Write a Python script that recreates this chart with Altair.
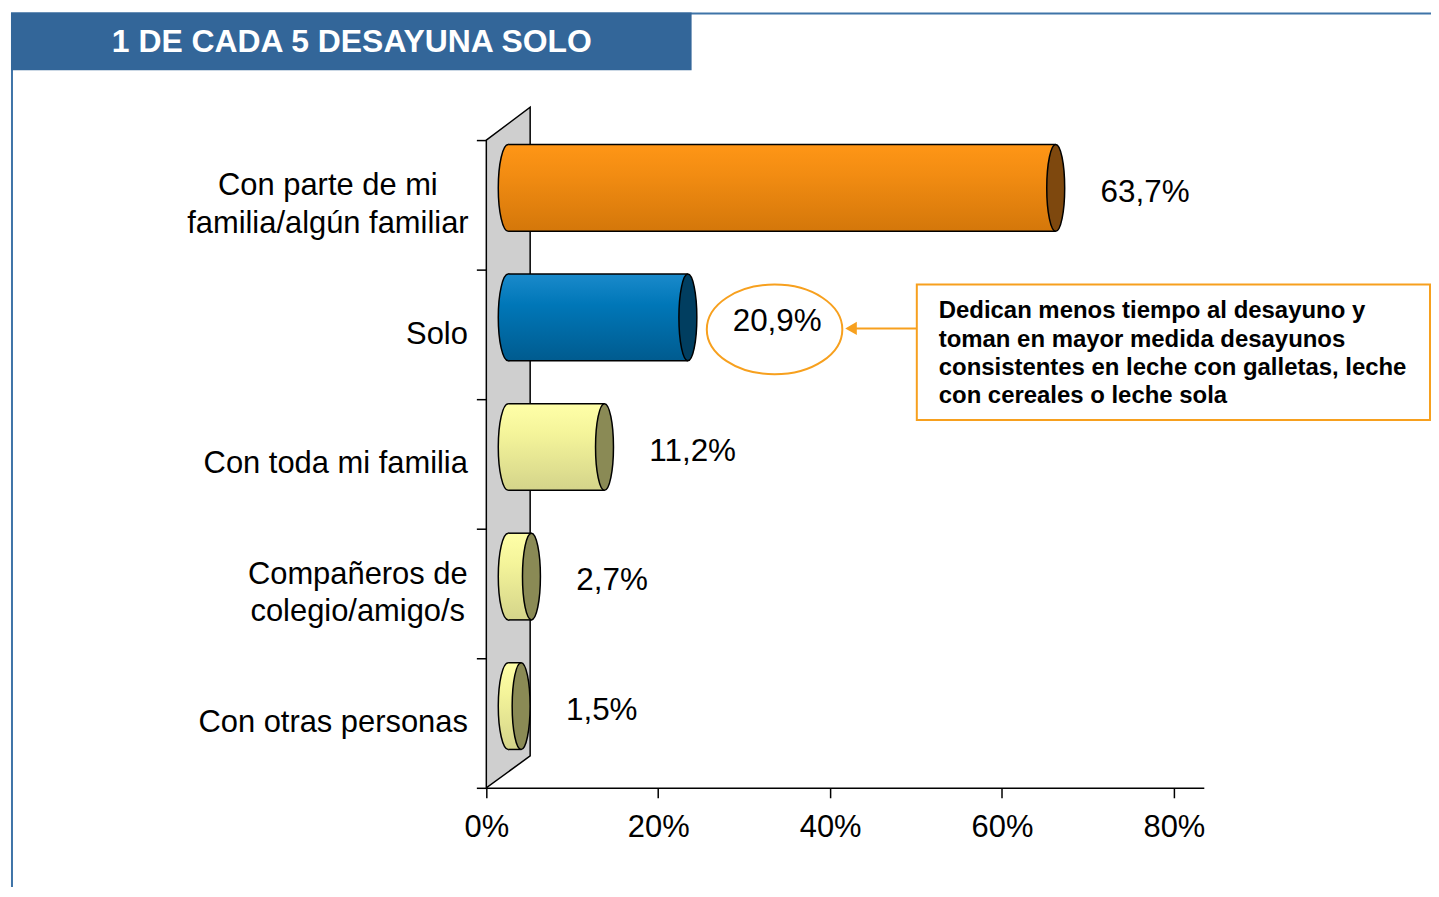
import altair as alt
import pandas as pd

# ---- data ----
categories = [
    "Con parte de mi\nfamilia/algún familiar",
    "Solo",
    "Con toda mi familia",
    "Compañeros de\ncolegio/amigo/s",
    "Con otras personas",
]
values = [63.7, 20.9, 11.2, 2.7, 1.5]
x_ticks = [0, 20, 40, 60, 80]
title_text = "1 DE CADA 5 DESAYUNA SOLO"
note_lines = [
    "Dedican menos tiempo al desayuno y",
    "toman en mayor medida desayunos",
    "consistentes en leche con galletas, leche",
    "con cereales o leche sola",
]

# ---- styles ----
FONT = "Liberation Sans"
FRAME = "#3F74A8"
ORANGE_LINE = "#F7A01E"
cap_colors = ["#7E480E", "#013E60", "#8A8A55", "#8A8A55", "#8A8A55"]


def grad(c0, c1, c2):
    return alt.Gradient(
        gradient="linear", x1=0, x2=0, y1=0, y2=1,
        stops=[alt.GradientStop(color=c0, offset=0),
               alt.GradientStop(color=c1, offset=0.35),
               alt.GradientStop(color=c2, offset=1)])


orange_g = grad("#FF9616", "#F28C12", "#D4770A")
blue_g = grad("#1A8ACB", "#0077B8", "#005B8F")
yellow_g = grad("#FFFFA8", "#F4F49A", "#D4D48A")

df = pd.DataFrame({"category": categories, "value": values})
base = alt.Chart(df)
one = alt.Data(values=[{}])

xscale = alt.Scale(domain=[0, 83.48], nice=False, zero=True)
yscale = alt.Scale(domain=categories, paddingInner=0, paddingOuter=0)

DX, DY = 22, -17      # 3D depth offset of the bars
HB = 87               # bar thickness
y_enc = alt.Y("category:N", scale=yscale, sort=categories,
              axis=alt.Axis(title=None, tickBand="extent", tickSize=10, tickWidth=1.5,
                            tickColor="black", domainColor="black", domainWidth=1.5,
                            labelFont=FONT, labelFontSize=31, labelColor="black",
                            labelLimit=500, labelPadding=9, labelAlign="right",
                            labelExpr="indexof(datum.label, '\\n') >= 0 ? '' : datum.label"))
x_enc = alt.X("value:Q", scale=xscale,
              axis=alt.Axis(title=None, values=x_ticks, grid=False, tickSize=10,
                            tickWidth=1.5, tickColor="black", domainColor="black",
                            domainWidth=1.5, labelFont=FONT, labelFontSize=31,
                            labelColor="black", labelPadding=15, labelFlush=False,
                            labelExpr="datum.value + '%'"))

# ---- decorations ----
frame_top = alt.Chart(one).mark_rule(color=FRAME, strokeWidth=2).encode(
    x=alt.value(-477), x2=alt.value(953), y=alt.value(-127))
frame_left = alt.Chart(one).mark_rule(color=FRAME, strokeWidth=2).encode(
    x=alt.value(-476), y=alt.value(-127), y2=alt.value(762))
title_box = alt.Chart(one).mark_rect(color="#336699").encode(
    x=alt.value(-477), x2=alt.value(206), y=alt.value(-128), y2=alt.value(-70))
title = alt.Chart(one).mark_text(
    text=title_text, font=FONT, fontSize=32,
    fontWeight="bold", color="white", align="center", baseline="middle").encode(
    x=alt.value(-135), y=alt.value(-98))

wall = alt.Chart(one).mark_point(
    shape="M0,0L44,-33L44,618L0,650Z", size=4, filled=True, fill="#CFCFCF",
    stroke="black", strokeWidth=1.5, opacity=1).encode(x=alt.value(0), y=alt.value(0))

left_cap_path = "M0,-43.5A10,43.5 0 1,0 0,43.5A10,43.5 0 1,0 0,-43.5Z"
right_cap_path = "M0,-43.5A9,43.5 0 1,1 0,43.5A9,43.5 0 1,1 0,-43.5Z"


def group_layers(cats, g):
    sub = base.transform_filter(alt.FieldOneOfPredicate(field="category", oneOf=cats))
    lcap = sub.mark_point(shape=left_cap_path, size=4, filled=True, fill=g,
                          stroke="black", strokeWidth=1.5, opacity=1,
                          xOffset=DX, yOffset=DY).encode(x=alt.datum(0), y=y_enc)
    body = sub.mark_bar(fill=g, stroke=None, size=HB, xOffset=DX, x2Offset=DX,
                        yOffset=DY, y2Offset=DY, opacity=1).encode(
        x=x_enc, x2=alt.datum(0), y=y_enc)
    return [lcap, body]


edges = []
for off in (DY - HB / 2, DY + HB / 2):
    edges.append(base.mark_rule(color="black", strokeWidth=1.5, xOffset=DX, x2Offset=DX,
                                yOffset=off).encode(x=x_enc, x2=alt.datum(0), y=y_enc))

right_caps = base.mark_point(shape=right_cap_path, size=4, filled=True, stroke="black",
                             strokeWidth=1.5, opacity=1, xOffset=DX, yOffset=DY).encode(
    x=x_enc, y=y_enc,
    fill=alt.Fill("category:N", scale=alt.Scale(domain=categories, range=cap_colors),
                  legend=None))

labels = base.mark_text(font=FONT, fontSize=31.5, color="black", align="left",
                        baseline="middle", dx=67, dy=-12).encode(
    x=x_enc, y=y_enc,
    text=alt.Text("lbl:N")).transform_calculate(
    lbl="replace(format(datum.value, '.1f'), '.', ',') + '%'")


# two-line category labels: lines centred on each other, block right-aligned at the axis
def two_line_label(cat, centre_x):
    return base.transform_filter(alt.FieldEqualPredicate(field="category", equal=cat)).mark_text(
        font=FONT, fontSize=31, color="black", align="center", baseline="middle",
        lineBreak="\n", lineHeight=38, dy=-19).encode(
        x=alt.value(centre_x), y=y_enc, text=alt.Text("category:N"))


cat_labels = [two_line_label(categories[0], -159), two_line_label(categories[3], -129)]

# ---- annotation around "Solo" ----
solo = base.transform_filter(alt.FieldEqualPredicate(field="category", equal="Solo"))
ring = solo.mark_point(shape="M-68,0A68,45 0 1,0 68,0A68,45 0 1,0 -68,0Z", size=4,
                       filled=False, stroke=ORANGE_LINE, strokeWidth=2, opacity=1,
                       xOffset=109, yOffset=-5).encode(x=x_enc, y=y_enc)
arrow_line = alt.Chart(one).mark_rule(color=ORANGE_LINE, strokeWidth=2).encode(
    x=alt.value(368), x2=alt.value(432), y=alt.value(189))
arrow_head = alt.Chart(one).mark_point(shape="triangle-left", size=180, filled=True,
                                       color=ORANGE_LINE, opacity=1).encode(
    x=alt.value(366), y=alt.value(189))
note_box = alt.Chart(one).mark_rect(fill="white", stroke=ORANGE_LINE, strokeWidth=2).encode(
    x=alt.value(432), x2=alt.value(947), y=alt.value(145), y2=alt.value(281))
note = alt.Chart(one).mark_text(font=FONT, fontSize=24, fontWeight="bold", color="black",
                                align="left", baseline="top", lineHeight=28.4).encode(
    x=alt.value(454), y=alt.value(160), text=alt.value(note_lines))

layers = [frame_top, frame_left, title_box, title, wall]
layers += group_layers([categories[0]], orange_g)
layers += group_layers([categories[1]], blue_g)
layers += group_layers(categories[2:], yellow_g)
layers += edges + [right_caps, labels] + cat_labels
layers += [ring, note_box, arrow_line, arrow_head, note]

chart = alt.layer(*layers).properties(
    width=720, height=650,
    padding={"left": 480, "top": 131, "right": 228, "bottom": 98},
    autosize=alt.AutoSizeParams(type="none"),
    background="white",
).configure_view(stroke=None)

chart.save("out.html", embed_options={"renderer": "svg", "actions": False})
